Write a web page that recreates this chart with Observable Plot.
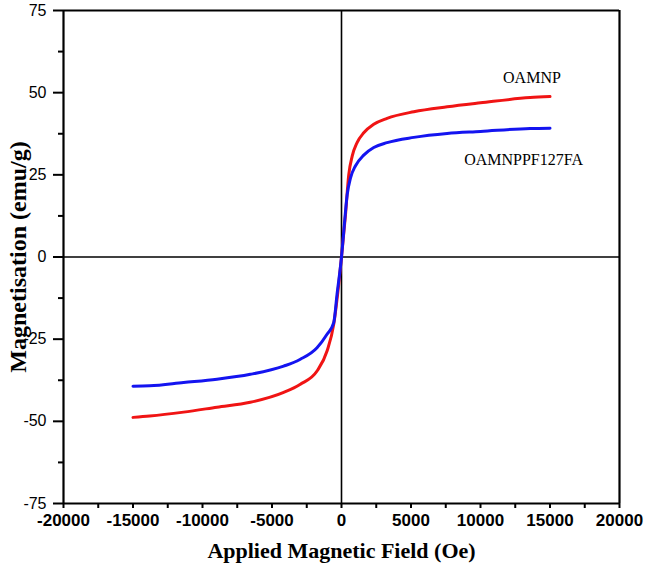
<!DOCTYPE html>
<html>
<head>
<meta charset="utf-8">
<script src="https://cdn.jsdelivr.net/npm/d3@7"></script>
<script src="https://cdn.jsdelivr.net/npm/@observablehq/plot@0.6"></script>
<style>
  html, body { margin: 0; padding: 0; background: #fff; }
</style>
</head>
<body>
<div id="chart"></div>
<script>
// Data
const fieldOAMNP = [-15000, -13800, -11360, -8960, -6560, -4160, -2960, -1760, -1040, -560, -200, 0, 290, 520, 770, 1120, 1600, 2320, 3280, 5200, 7600, 10000, 13570, 15000];
const magOAMNP   = [-48.8, -48.4, -47.2, -45.7, -44.2, -41.2, -38.7, -34.7, -28.6, -20.5, -8.3, 0, 13, 25, 30.7, 34.8, 37.8, 40.4, 42.2, 44.2, 45.7, 46.9, 48.5, 48.8];

const fieldPF127 = [-15000, -13800, -11360, -8960, -6560, -4160, -2960, -1760, -1040, -560, -320, 0, 165, 410, 650, 1000, 1600, 2320, 3280, 5200, 7600, 10000, 13570, 15000];
const magPF127   = [-39.3, -39.2, -38.2, -37.2, -35.7, -33.2, -31.1, -27.6, -23.5, -20, -11.3, 0, 7.9, 19, 24.1, 27.7, 31, 33.3, 34.8, 36.4, 37.6, 38.2, 39.1, 39.2];

const seriesNames = ["OAMNP", "OAMNPPF127FA"];
const labelField  = [13700, 13100];
const labelMag    = [52.8, 28.1];

const xTicks      = [-20000, -15000, -10000, -5000, 0, 5000, 10000, 15000, 20000];
const xMinorTicks = [-17500, -12500, -7500, -2500, 2500, 7500, 12500, 17500];
const yTicks      = [-75, -50, -25, 0, 25, 50, 75];
const yMinorTicks = [-62.5, -37.5, -12.5, 12.5, 37.5, 62.5];
const xDomain     = [-20000, 20000];
const yDomain     = [-75, 75];

const xTitle = "Applied Magnetic Field (Oe)";
const yTitle = "Magnetisation (emu/g)";

const redData  = fieldOAMNP.map((f, i) => ({field: f, mag: magOAMNP[i]}));
const blueData = fieldPF127.map((f, i) => ({field: f, mag: magPF127[i]}));
const labels   = seriesNames.map((n, i) => ({name: n, field: labelField[i], mag: labelMag[i]}));

const chart = Plot.plot({
  width: 646,
  height: 566,
  marginLeft: 63,
  marginRight: 27,
  marginTop: 10,
  marginBottom: 63,
  style: {fontFamily: "'Liberation Sans', Arial, sans-serif", background: "#fff", overflow: "visible", color: "#000"},
  x: {domain: xDomain},
  y: {domain: yDomain},
  marks: [
    Plot.ruleX([0], {stroke: "#000", strokeWidth: 1.6}),
    Plot.ruleY([0], {stroke: "#000", strokeWidth: 1.6}),
    Plot.line(redData, {x: "field", y: "mag", stroke: "#f01414", strokeWidth: 3, curve: "monotone-x"}),
    Plot.line(blueData, {x: "field", y: "mag", stroke: "#1414f0", strokeWidth: 3, curve: "monotone-x"}),
    Plot.text(labels, {x: "field", y: "mag", text: "name", textAnchor: "middle", lineAnchor: "bottom",
      fontFamily: "'Liberation Serif', 'Times New Roman', serif", fontSize: 16, fill: "#000"}),
    Plot.axisX(xTicks, {tickSize: 5, tickPadding: 5, strokeWidth: 2, fontSize: 17, fontWeight: "bold",
      tickFormat: d => String(d), label: null}),
    Plot.axisX(xMinorTicks, {tickSize: 5, strokeWidth: 2, tickFormat: () => "", label: null}),
    Plot.axisY(yTicks, {tickSize: 10, tickPadding: 7, strokeWidth: 2, fontSize: 16,
      tickFormat: d => String(d), label: null}),
    Plot.axisY(yMinorTicks, {tickSize: 5, strokeWidth: 2, tickFormat: () => "", label: null}),
    Plot.ruleX(xDomain, {stroke: "#000", strokeWidth: 2.2}),
    Plot.ruleY(yDomain, {stroke: "#000", strokeWidth: 2.2}),
    Plot.text([xTitle], {frameAnchor: "bottom", dy: 54, lineAnchor: "bottom", textAnchor: "middle",
      fontFamily: "'Liberation Serif', 'Times New Roman', serif", fontSize: 22, fontWeight: "bold", fill: "#000"}),
    Plot.text([yTitle], {frameAnchor: "left", dx: -38, rotate: -90, lineAnchor: "bottom", textAnchor: "middle",
      fontFamily: "'Liberation Serif', 'Times New Roman', serif", fontSize: 24, fontWeight: "bold", fill: "#000"})
  ]
});
// thicken axis ticks like the reference
d3.select(chart).selectAll('g[aria-label$="tick"]').attr("stroke-width", 2).attr("stroke", "#000");
d3.select(chart).selectAll('g[aria-label$="tick"] path').attr("stroke-width", 2);
document.getElementById("chart").appendChild(chart);
</script>
</body>
</html>
